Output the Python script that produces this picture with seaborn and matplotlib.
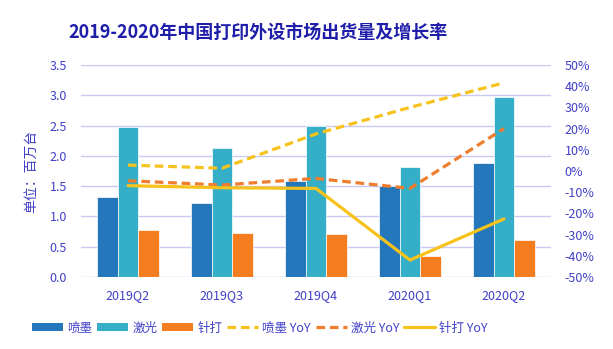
import numpy as np
import pandas as pd
import matplotlib
matplotlib.use("Agg")
import matplotlib.pyplot as plt
from matplotlib.patches import Patch
from matplotlib.lines import Line2D
import seaborn as sns

# Quarterly shipments (million units) and year-over-year growth
quarters = ["2019Q2", "2019Q3", "2019Q4", "2020Q1", "2020Q2"]
inkjet = [1.32, 1.22, 1.59, 1.50, 1.88]
laser = [2.48, 2.13, 2.50, 1.81, 2.97]
dot_matrix = [0.78, 0.73, 0.71, 0.35, 0.61]
inkjet_yoy = [2.8, 1.3, 17.5, 30.0, 41.6]
laser_yoy = [-4.6, -6.6, -3.5, -8.2, 20.0]
dot_matrix_yoy = [-6.9, -7.9, -8.2, -42.0, -22.6]

series_names = ["喷墨", "激光", "针打"]
left_ticks = [0.0, 0.5, 1.0, 1.5, 2.0, 2.5, 3.0, 3.5]
right_ticks = [-50, -40, -30, -20, -10, 0, 10, 20, 30, 40, 50]

C_INK = "#2577BC"
C_LASER = "#35AEC7"
C_DOT = "#F47D20"
C_YELLOW = "#F7C21C"
C_ORANGE = "#EE7D2E"
TXT = "#4040C8"
TITLE = "#1E1EAA"
GRID = "#C9C9F4"

sns.set_theme(style="white")
plt.rcParams["font.family"] = ["Noto Sans CJK SC", "DejaVu Sans"]

bars = pd.DataFrame({
    "quarter": quarters * 3,
    "value": inkjet + laser + dot_matrix,
    "type": [n for n in series_names for _ in quarters],
})

fig = plt.figure(figsize=(6.13, 3.49), dpi=100)
ax = fig.add_axes([0.1321, 0.2063, 0.7667, 0.6074])

sns.barplot(data=bars, x="quarter", y="value", hue="type",
            palette=[C_INK, C_LASER, C_DOT], width=0.66, ax=ax,
            saturation=1, edgecolor="white", linewidth=0.5, legend=False)

ax.set_ylim(0, 3.5)
ax.set_yticks(left_ticks)
ax.set_yticklabels([f"{t:.1f}" for t in left_ticks])
ax.set_xlim(-0.5, len(quarters) - 0.5)
ax.yaxis.grid(True, color=GRID, linewidth=1.0)
ax.set_axisbelow(True)
for s in ax.spines.values():
    s.set_visible(False)
ax.tick_params(axis="both", length=0, colors=TXT, labelsize=9)
ax.tick_params(axis="y", pad=10)
ax.tick_params(axis="x", pad=9)
ax.set_xlabel("")
ax.set_ylabel("单位：百万台", color=TXT, fontsize=10, labelpad=8)

ax2 = ax.twinx()
lines = pd.DataFrame({
    "quarter": quarters * 3,
    "yoy": inkjet_yoy + laser_yoy + dot_matrix_yoy,
    "type": [n + " YoY" for n in series_names for _ in quarters],
})
style = {"喷墨 YoY": (C_YELLOW, (2.7, 1.5)),
         "激光 YoY": (C_ORANGE, (2.7, 1.5)),
         "针打 YoY": (C_YELLOW, "")}
for name, (col, dash) in style.items():
    sub = lines[lines["type"] == name]
    sns.lineplot(data=sub, x="quarter", y="yoy", ax=ax2, color=col,
                 linewidth=2.3, sort=False, legend=False)
    if dash:
        ax2.lines[-1].set_dashes(dash)
ax2.set_ylim(-50, 50)
ax2.set_yticks(right_ticks)
ax2.set_yticklabels([f"{t}%" for t in right_ticks])
ax2.set_xlim(-0.5, len(quarters) - 0.5)
ax2.grid(False)
for s in ax2.spines.values():
    s.set_visible(False)
ax2.tick_params(axis="y", length=0, colors=TXT, labelsize=9, pad=10)
ax2.set_ylabel("")
ax2.set_xlabel("")

fig.text(0.421, 0.908, "2019-2020年中国打印外设市场出货量及增长率",
         ha="center", va="center", fontsize=13, color=TITLE,
         fontweight="bold")

handles = [
    Patch(facecolor=C_INK, edgecolor="none"),
    Patch(facecolor=C_LASER, edgecolor="none"),
    Patch(facecolor=C_DOT, edgecolor="none"),
    Line2D([], [], color=C_YELLOW, lw=2.3, dashes=(2.7, 1.5)),
    Line2D([], [], color=C_ORANGE, lw=2.3, dashes=(2.7, 1.5)),
    Line2D([], [], color=C_YELLOW, lw=2.3),
]
labels = series_names + [n + " YoY" for n in series_names]
leg = fig.legend(handles, labels, loc="center", bbox_to_anchor=(0.424, 0.06),
                 ncol=6, frameon=False, fontsize=9, handlelength=2.5,
                 handleheight=0.55, handletextpad=0.3, columnspacing=0.4,
                 labelcolor=TXT)

fig.savefig("out.png", dpi=100)
